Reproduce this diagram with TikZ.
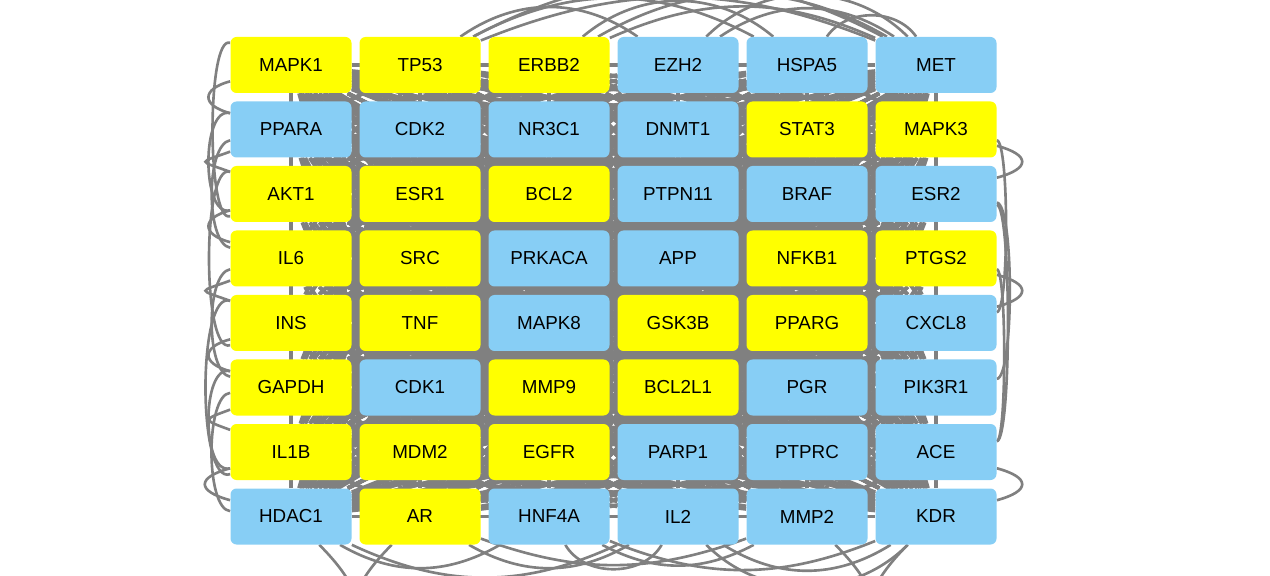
\documentclass[tikz,border=0pt]{standalone}
\usepackage{fontspec}
\setmainfont{Liberation Sans}
\pgfdeclarelayer{edges}
\pgfsetlayers{edges,main}
\definecolor{hubyellow}{RGB}{255,255,0}
\definecolor{geneblue}{RGB}{135,206,245}
\definecolor{edgegray}{RGB}{128,128,128}
\tikzset{
  gene/.style={rectangle, rounded corners=0.12cm, minimum width=2.42cm,
    minimum height=1.12cm, inner sep=0pt, fill=geneblue,
    font=\fontsize{10.7}{12}\selectfont},
  hub/.style={gene, fill=hubyellow},
  link/.style={draw=edgegray, line width=1.5pt},
  corelink/.style={link, line width=2.2pt},
}
\begin{document}
\begin{tikzpicture}
    \def\x{2.58}
    \def\y{-1.29}
    \useasboundingbox (-5.82,1.30) rectangle (19.58,-10.22);
    \node [hub]  (A0_0) at (0*\x, 0*\y) {MAPK1};
    \node [hub]  (A0_1) at (1*\x, 0*\y) {TP53};
    \node [hub]  (A0_2) at (2*\x, 0*\y) {ERBB2};
    \node [gene] (A0_3) at (3*\x, 0*\y) {EZH2};
    \node [gene] (A0_4) at (4*\x, 0*\y) {HSPA5};
    \node [gene] (A0_5) at (5*\x, 0*\y) {MET};
    \node [gene] (A1_0) at (0*\x, 1*\y) {PPARA};
    \node [gene] (A1_1) at (1*\x, 1*\y) {CDK2};
    \node [gene] (A1_2) at (2*\x, 1*\y) {NR3C1};
    \node [gene] (A1_3) at (3*\x, 1*\y) {DNMT1};
    \node [hub]  (A1_4) at (4*\x, 1*\y) {STAT3};
    \node [hub]  (A1_5) at (5*\x, 1*\y) {MAPK3};
    \node [hub]  (A2_0) at (0*\x, 2*\y) {AKT1};
    \node [hub]  (A2_1) at (1*\x, 2*\y) {ESR1};
    \node [hub]  (A2_2) at (2*\x, 2*\y) {BCL2};
    \node [gene] (A2_3) at (3*\x, 2*\y) {PTPN11};
    \node [gene] (A2_4) at (4*\x, 2*\y) {BRAF};
    \node [gene] (A2_5) at (5*\x, 2*\y) {ESR2};
    \node [hub]  (A3_0) at (0*\x, 3*\y) {IL6};
    \node [hub]  (A3_1) at (1*\x, 3*\y) {SRC};
    \node [gene] (A3_2) at (2*\x, 3*\y) {PRKACA};
    \node [gene] (A3_3) at (3*\x, 3*\y) {APP};
    \node [hub]  (A3_4) at (4*\x, 3*\y) {NFKB1};
    \node [hub]  (A3_5) at (5*\x, 3*\y) {PTGS2};
    \node [hub]  (A4_0) at (0*\x, 4*\y) {INS};
    \node [hub]  (A4_1) at (1*\x, 4*\y) {TNF};
    \node [gene] (A4_2) at (2*\x, 4*\y) {MAPK8};
    \node [hub]  (A4_3) at (3*\x, 4*\y) {GSK3B};
    \node [hub]  (A4_4) at (4*\x, 4*\y) {PPARG};
    \node [gene] (A4_5) at (5*\x, 4*\y) {CXCL8};
    \node [hub]  (A5_0) at (0*\x, 5*\y) {GAPDH};
    \node [gene] (A5_1) at (1*\x, 5*\y) {CDK1};
    \node [hub]  (A5_2) at (2*\x, 5*\y) {MMP9};
    \node [hub]  (A5_3) at (3*\x, 5*\y) {BCL2L1};
    \node [gene] (A5_4) at (4*\x, 5*\y) {PGR};
    \node [gene] (A5_5) at (5*\x, 5*\y) {PIK3R1};
    \node [hub]  (A6_0) at (0*\x, 6*\y) {IL1B};
    \node [hub]  (A6_1) at (1*\x, 6*\y) {MDM2};
    \node [hub]  (A6_2) at (2*\x, 6*\y) {EGFR};
    \node [gene] (A6_3) at (3*\x, 6*\y) {PARP1};
    \node [gene] (A6_4) at (4*\x, 6*\y) {PTPRC};
    \node [gene] (A6_5) at (5*\x, 6*\y) {ACE};
    \node [gene] (A7_0) at (0*\x, 7*\y) {HDAC1};
    \node [hub]  (A7_1) at (1*\x, 7*\y) {AR};
    \node [gene] (A7_2) at (2*\x, 7*\y) {HNF4A};
    \node [gene] (A7_3) at (3*\x, 7*\y) {IL2};
    \node [gene] (A7_4) at (4*\x, 7*\y) {MMP2};
    \node [gene] (A7_5) at (5*\x, 7*\y) {KDR};
    \begin{pgfonlayer}{edges}
    \clip (-5.82,1.30) rectangle (19.58,-10.22);
    % dense core: every pair inside the grid
    \foreach \i in {0,...,46} {
      \pgfmathtruncatemacro\ra{div(\i,6)}
      \pgfmathtruncatemacro\ca{mod(\i,6)}
      \pgfmathtruncatemacro\first{\i+1}
      \foreach \j in {\first,...,47} {
        \pgfmathtruncatemacro\rb{div(\j,6)}
        \pgfmathtruncatemacro\cb{mod(\j,6)}
        \draw [corelink] (A\ra_\ca) -- (A\rb_\cb);
      }
    }
    % top row
    \path (A0_1) edge [link,bend left=35] (A0_3);
    \path (A0_1) edge [link,bend left=28] (A0_4);
    \path (A0_1) edge [link,bend left=22] (A0_5);
    \path (A0_1) edge [link,bend left=28] (A0_5);
    \path (A0_2) edge [link,bend left=40] (A0_4);
    \path (A0_2) edge [link,bend left=30] (A0_5);
    \path (A0_2) edge [link,bend left=24] (A0_5);
    \path (A0_3) edge [link,bend left=45] (A0_5);
    \path (A0_3) edge [link,bend left=34] (A0_5);
    \path (A0_4) edge [link,bend left=55] (A0_5);
    % bottom row
    \path (A7_0) edge [link,out=-45,in=-135,distance=2cm] (A7_1);
    \path (A7_0) edge [link,bend right=30] (A7_2);
    \path (A7_0) edge [link,bend right=25] (A7_3);
    \path (A7_1) edge [link,bend right=30] (A7_3);
    \path (A7_1) edge [link,bend right=20] (A7_4);
    \path (A7_2) edge [link,bend right=60] (A7_3);
    \path (A7_2) edge [link,bend right=28] (A7_4);
    \path (A7_2) edge [link,bend right=22] (A7_5);
    \path (A7_3) edge [link,bend right=32] (A7_5);
    \path (A7_3) edge [link,bend right=45] (A7_5);
    \path (A7_4) edge [link,out=-45,in=-135,distance=2cm] (A7_5);
    % left column
    \path (A0_0) edge [link,out=195,in=165,distance=0.6cm] (A1_0);
    \path (A0_0) edge [link,out=160,in=200,distance=0.5cm] (A2_0);
    \path (A1_0) edge [link,out=200,in=160,distance=0.7cm] (A2_0);
    \path (A1_0) edge [link,out=165,in=195,distance=0.6cm] (A2_0);
    \path (A1_0) edge [link,out=190,in=170,distance=0.5cm] (A3_0);
    \path (A2_0) edge [link,out=195,in=165,distance=0.6cm] (A3_0);
    \path (A2_0) edge [link,out=160,in=200,distance=0.6cm] (A4_0);
    \path (A3_0) edge [link,out=200,in=160,distance=0.7cm] (A4_0);
    \path (A3_0) edge [link,out=190,in=170,distance=0.5cm] (A5_0);
    \path (A4_0) edge [link,out=195,in=165,distance=0.6cm] (A5_0);
    \path (A4_0) edge [link,out=160,in=200,distance=0.7cm] (A6_0);
    \path (A5_0) edge [link,out=200,in=160,distance=0.6cm] (A6_0);
    \path (A5_0) edge [link,out=165,in=195,distance=0.6cm] (A6_0);
    \path (A5_0) edge [link,out=185,in=175,distance=0.5cm] (A7_0);
    \path (A6_0) edge [link,out=195,in=165,distance=0.7cm] (A7_0);
    % right column
    \path (A1_5) edge [link,out=-15,in=15,distance=0.7cm] (A2_5);
    \path (A1_5) edge [link,out=-10,in=10,distance=0.25cm] (A4_5);
    \path (A2_5) edge [link,out=-10,in=10,distance=0.3cm] (A6_5);
    \path (A2_5) edge [link,out=-8,in=8,distance=0.35cm] (A5_5);
    \path (A3_5) edge [link,out=-15,in=15,distance=0.7cm] (A4_5);
    \path (A3_5) edge [link,out=-10,in=10,distance=0.2cm] (A6_5);
    \path (A6_5) edge [link,out=-15,in=15,distance=0.7cm] (A7_5);
    \end{pgfonlayer}
\end{tikzpicture}
\end{document}
